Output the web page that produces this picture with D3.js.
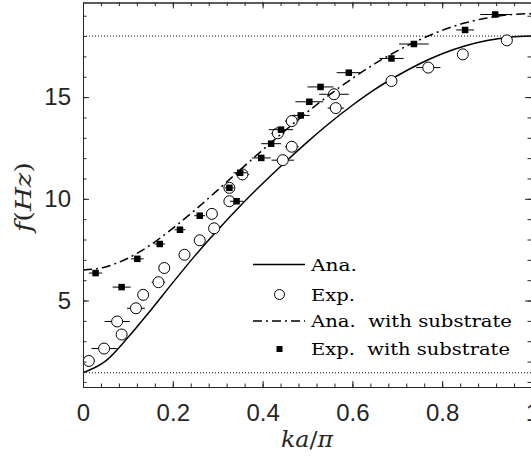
<!DOCTYPE html>
<html>
<head>
<meta charset="utf-8">
<script src="https://cdn.jsdelivr.net/npm/d3@7"></script>
<style>
  body { margin: 0; background: #fff; }
  svg { display: block; }
</style>
</head>
<body>
<svg width="531" height="460"></svg>
<script>
// analytic curves, every 0.05 in ka/pi
const kaGrid = [0, 0.05, 0.1, 0.15, 0.2, 0.25, 0.3, 0.35, 0.4, 0.45, 0.5,
  0.55, 0.6, 0.65, 0.7, 0.75, 0.8, 0.85, 0.9, 0.95, 1];
const anaF = [1.45, 2.02, 3.18, 4.5, 5.88, 7.22, 8.47, 9.65, 10.75, 11.8, 12.8,
  13.74, 14.6, 15.38, 16.05, 16.64, 17.13, 17.51, 17.78, 17.94, 18.0];
const anaSubF = [6.5, 6.65, 7.08, 7.73, 8.55, 9.46, 10.43, 11.42, 12.4, 13.35, 14.27,
  15.13, 15.92, 16.64, 17.27, 17.82, 18.28, 18.64, 18.89, 19.05, 19.1];

// measured points (open circles)
const expKa = [0.013, 0.047, 0.076, 0.086, 0.118, 0.134, 0.168, 0.181, 0.226, 0.26, 0.292,
  0.287, 0.326, 0.326, 0.355, 0.445, 0.465, 0.434, 0.465, 0.563, 0.559, 0.687, 0.769, 0.846, 0.944];
const expF = [2.03, 2.64, 3.97, 3.33, 4.62, 5.28, 5.9, 6.6, 7.25, 7.96, 8.55,
  9.26, 9.88, 10.54, 11.2, 11.9, 12.56, 13.22, 13.82, 14.46, 15.14, 15.79, 16.45, 17.1, 17.79];
const expErr = [0.006, 0.028, 0.028, 0.008, 0.02, 0.008, 0.015, 0.008, 0.008, 0.012, 0.008,
  0.008, 0.012, 0.008, 0.015, 0.025, 0.015, 0.015, 0.015, 0.018, 0.033, 0.008, 0.027, 0.008, 0.008];

// measured points with substrate (filled squares)
const subKa = [0.028, 0.086, 0.121, 0.171, 0.216, 0.26, 0.326, 0.342, 0.35, 0.397,
  0.419, 0.441, 0.485, 0.504, 0.529, 0.592, 0.687, 0.737, 0.851, 0.918];
const subF = [6.35, 5.66, 7.05, 7.78, 8.48, 9.17, 10.54, 9.88, 11.28, 12.01,
  12.71, 13.4, 14.1, 14.77, 15.5, 16.2, 16.9, 17.61, 18.3, 19.06];
const subErr = [0.015, 0.02, 0.014, 0.012, 0.012, 0.012, 0.01, 0.015, 0.015, 0.021,
  0.022, 0.027, 0.02, 0.031, 0.029, 0.027, 0.027, 0.033, 0.02, 0.033];

const bandEdges = [1.45, 18];
const xTicks = [0, 0.2, 0.4, 0.6, 0.8, 1];
const xTickLabels = ["0", "0.2", "0.4", "0.6", "0.8", "1"];
const yTicks = [5, 10, 15];
const yTickLabels = ["5", "10", "15"];
const legendLabels = ["Ana.", "Exp.", "Ana.  with substrate", "Exp.  with substrate"];

const svg = d3.select("svg");
const axisColor = "#262626";
const plotLeft = 83, plotRight = 532, plotTop = 2.5, plotBottom = 387;

const x = d3.scaleLinear().domain([0, 1]).range([plotLeft, plotRight]);
const y = d3.scaleLinear().domain([0.75, 19.65]).range([plotBottom, plotTop]);

// dotted band edges
svg.append("g").selectAll("line")
  .data(bandEdges)
  .enter().append("line")
  .attr("x1", x(0)).attr("x2", x(1))
  .attr("y1", d => y(d)).attr("y2", d => y(d))
  .attr("stroke", "#000").attr("stroke-width", 1)
  .attr("stroke-dasharray", "1,2");

const pts = (ks, fs) => ks.map((k, i) => [k, fs[i]]);
const line = d3.line().x(d => x(d[0])).y(d => y(d[1])).curve(d3.curveMonotoneX);

// error bars of the circles
svg.append("g").selectAll("line")
  .data(pts(expKa, expF))
  .enter().append("line")
  .attr("x1", (d, i) => x(d[0] - expErr[i]))
  .attr("x2", (d, i) => x(d[0] + expErr[i]))
  .attr("y1", d => y(d[1])).attr("y2", d => y(d[1]))
  .attr("stroke", "#000").attr("stroke-width", 1);

svg.append("path")
  .datum(pts(kaGrid, anaF))
  .attr("d", line)
  .attr("fill", "none").attr("stroke", "#000").attr("stroke-width", 1.5);

svg.append("g").selectAll("circle")
  .data(pts(expKa, expF))
  .enter().append("circle")
  .attr("cx", d => x(d[0])).attr("cy", d => y(d[1]))
  .attr("r", 5.5)
  .attr("fill", "#fff").attr("stroke", "#000").attr("stroke-width", 1);

svg.append("path")
  .datum(pts(kaGrid, anaSubF))
  .attr("d", line)
  .attr("fill", "none").attr("stroke", "#000").attr("stroke-width", 1.5)
  .attr("stroke-dasharray", "9,4,2,4");

svg.append("g").selectAll("line")
  .data(pts(subKa, subF))
  .enter().append("line")
  .attr("x1", (d, i) => x(d[0] - subErr[i]))
  .attr("x2", (d, i) => x(d[0] + subErr[i]))
  .attr("y1", d => y(d[1])).attr("y2", d => y(d[1]))
  .attr("stroke", "#000").attr("stroke-width", 1);

const sq = 6.5;
svg.append("g").selectAll("rect")
  .data(pts(subKa, subF))
  .enter().append("rect")
  .attr("x", d => x(d[0]) - sq / 2).attr("y", d => y(d[1]) - sq / 2)
  .attr("width", sq).attr("height", sq)
  .attr("fill", "#000");

// axes: box with inward ticks
const minorX = d3.range(0, 1.0001, 0.04);
const minorY = d3.range(1, 19.5, 1);

function styleAxis(g) {
  g.selectAll("path, line").attr("stroke", axisColor).attr("stroke-width", 1);
  g.selectAll("text").attr("fill", axisColor)
    .attr("font-family", "Liberation Sans, Arial, sans-serif").attr("font-size", 24);
}

svg.append("g").attr("transform", `translate(0,${plotBottom})`)
  .call(d3.axisBottom(x).tickValues(minorX).tickFormat("").tickSize(-3.5).tickSizeOuter(0))
  .call(styleAxis);
svg.append("g").attr("transform", `translate(0,${plotBottom})`)
  .call(d3.axisBottom(x).tickValues(xTicks).tickFormat((d, i) => xTickLabels[i])
    .tickSize(-6).tickSizeOuter(0).tickPadding(17))
  .call(styleAxis);
svg.append("g").attr("transform", `translate(0,${plotTop})`)
  .call(d3.axisTop(x).tickValues(minorX).tickFormat("").tickSize(-3.5).tickSizeOuter(0))
  .call(styleAxis);
svg.append("g").attr("transform", `translate(0,${plotTop})`)
  .call(d3.axisTop(x).tickValues(xTicks).tickFormat("").tickSize(-6).tickSizeOuter(0))
  .call(styleAxis);

svg.append("g").attr("transform", `translate(${plotLeft},0)`)
  .call(d3.axisLeft(y).tickValues(minorY).tickFormat("").tickSize(-3.5).tickSizeOuter(0))
  .call(styleAxis);
svg.append("g").attr("transform", `translate(${plotLeft},0)`)
  .call(d3.axisLeft(y).tickValues(yTicks).tickFormat((d, i) => yTickLabels[i])
    .tickSize(-6).tickSizeOuter(0).tickPadding(12))
  .call(styleAxis);
svg.append("g").attr("transform", `translate(${plotRight - 1},0)`)
  .call(d3.axisRight(y).tickValues(minorY).tickFormat("").tickSize(-3.5).tickSizeOuter(0))
  .call(styleAxis);
svg.append("g").attr("transform", `translate(${plotRight - 1},0)`)
  .call(d3.axisRight(y).tickValues(yTicks).tickFormat("").tickSize(-6).tickSizeOuter(0))
  .call(styleAxis);

// axis labels
const xl = svg.append("text")
  .attr("x", 307).attr("y", 447)
  .attr("text-anchor", "middle")
  .attr("textLength", 52).attr("lengthAdjust", "spacingAndGlyphs")
  .attr("font-family", "DejaVu Serif, serif").attr("font-size", 22)
  .attr("fill", axisColor);
xl.append("tspan").attr("font-style", "italic").text("ka");
xl.append("tspan").text("/");
xl.append("tspan").attr("font-style", "italic").text("π");

const yl = svg.append("text")
  .attr("transform", "translate(31,197) rotate(-90)")
  .attr("text-anchor", "middle")
  .attr("textLength", 70).attr("lengthAdjust", "spacingAndGlyphs")
  .attr("font-family", "DejaVu Serif, serif").attr("font-size", 22)
  .attr("fill", axisColor);
yl.append("tspan").attr("font-style", "italic").text("f");
yl.append("tspan").text("(");
yl.append("tspan").attr("font-style", "italic").text("Hz");
yl.append("tspan").text(")");

// legend
const legY = [264.5, 294.5, 321, 349];
const legWidths = [46, 44, 201, 199];
const leg = svg.append("g");
leg.append("line").attr("x1", 253).attr("x2", 305)
  .attr("y1", legY[0]).attr("y2", legY[0])
  .attr("stroke", "#000").attr("stroke-width", 1.5);
leg.append("circle").attr("cx", 279.5).attr("cy", legY[1]).attr("r", 5)
  .attr("fill", "#fff").attr("stroke", "#000").attr("stroke-width", 1);
leg.append("line").attr("x1", 253).attr("x2", 305)
  .attr("y1", legY[2]).attr("y2", legY[2])
  .attr("stroke", "#000").attr("stroke-width", 1.5)
  .attr("stroke-dasharray", "9,4,2,4");
leg.append("rect").attr("x", 279.5 - 3).attr("y", legY[3] - 3)
  .attr("width", 6).attr("height", 6).attr("fill", "#000");
leg.selectAll("text")
  .data(legendLabels)
  .enter().append("text")
  .attr("x", 311).attr("y", (d, i) => legY[i] + 6.3)
  .attr("textLength", (d, i) => legWidths[i])
  .attr("lengthAdjust", "spacingAndGlyphs")
  .attr("font-family", "DejaVu Serif, serif").attr("font-size", 17)
  .attr("fill", "#000")
  .style("white-space", "pre")
  .text(d => d);
</script>
</body>
</html>
